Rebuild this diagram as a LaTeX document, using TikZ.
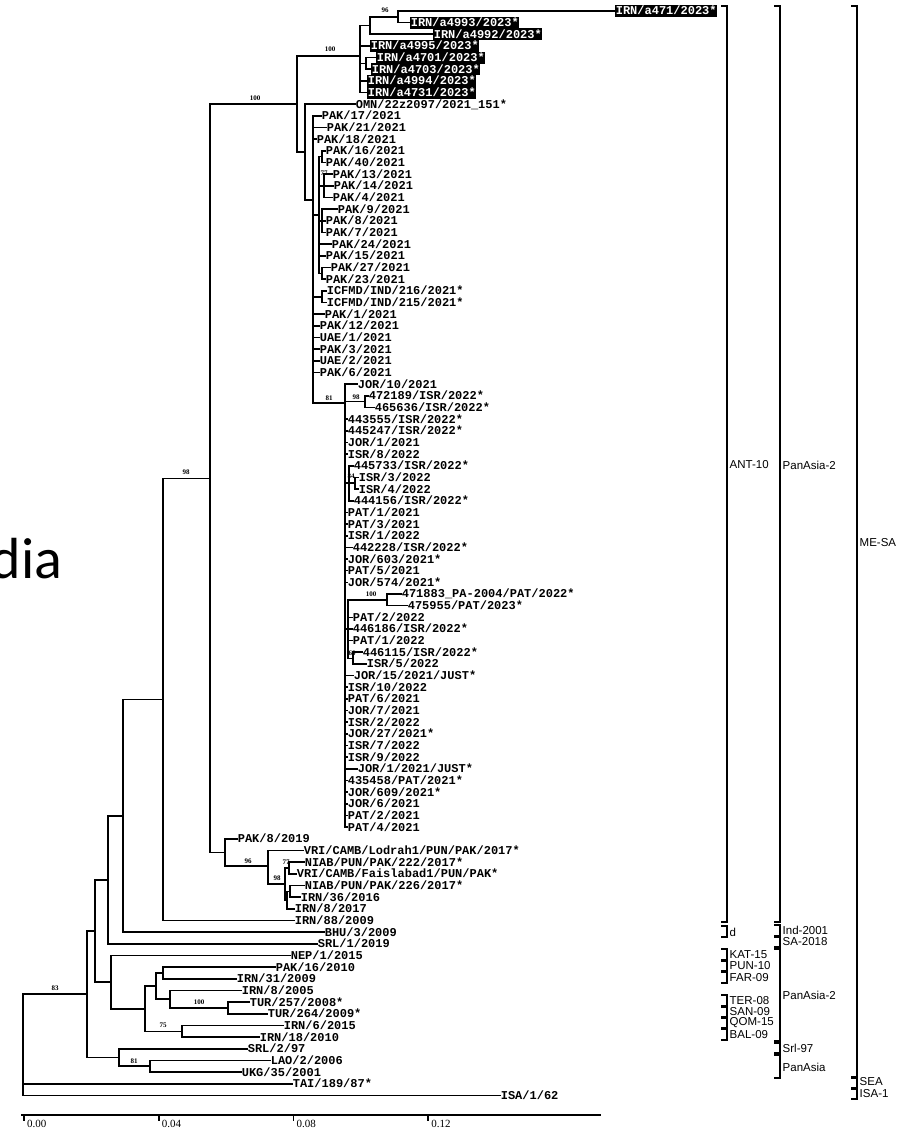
\documentclass[tikz,border=0pt]{standalone}
\usepackage{fontspec}
\setmainfont{Liberation Serif}
\newfontfamily\labfont{Liberation Mono}
\newfontfamily\grpfont{Liberation Sans}
\newfontfamily\calfont{Carlito}
\tikzset{
 br/.style={line width=1.6pt, line cap=rect},
 leaf/.style={anchor=west, inner xsep=0.6pt, inner ysep=2pt, text height=8pt, text depth=0pt, font=\labfont\bfseries\fontsize{12}{12}\selectfont},
 hlleaf/.style={leaf, fill=black, text=white},
 bsf/.style={font=\fontsize{7}{7}\selectfont\bfseries, inner sep=0},
 grp/.style={anchor=west, inner sep=0, font=\grpfont\fontsize{11.5}{11.5}\selectfont},
 brk/.style={line width=1.6pt},
 axl/.style={anchor=west, inner sep=0, font=\fontsize{11}{11}\selectfont}
}
\newcommand\tclade[6]{\coordinate (#1) at (#3,#6); \draw[br] (#3,#4) -- (#3,#5); \draw[br] (#2,#6) -- (#1);}
\newcommand\tleaf[5]{\node[leaf] (#1) at (#4,#3) {#5}; \draw[br] (#2,#3) -- (#1.west);}
\newcommand\thleaf[5]{\node[hlleaf] (#1) at (#4,#3) {#5}; \draw[br] (#2,#3) -- (#1.west);}
\newcommand\tboot[4]{\node[bsf] (#1) at (#2,#3) {#4};}
\newcommand\tgroup[6]{\draw[brk] ({#2-6},#3) -- (#2,#3) -- (#2,#4) -- ({#2-6},#4); \node[grp] (#1) at ({#2+2.5},#5) {#6};}
\begin{document}
\begin{tikzpicture}[x=1pt,y=-1pt]
\useasboundingbox (0,0) rectangle (904,1131);
\node[anchor=base west, inner sep=0, font=\calfont\fontsize{58}{60}\selectfont] (dia) at (-9.5,578) {dia};
% ---- backbone ----
\coordinate (root) at (23,994.2);
\draw[br] (23,994.2) -- (23,1095.4);
\tclade{n87}{23}{87}{930.9}{1057.5}{994.2}
\tclade{n95}{87}{95}{879.8}{982.1}{930.9}
\tclade{n108}{95}{108}{815.8}{943.8}{879.8}
\tclade{n123}{108}{123}{699.4}{932.1}{815.8}
\tclade{n163}{123}{163}{478.3}{920.5}{699.4}
\tclade{n210}{163}{210}{104}{852.5}{478.3}
\tclade{n111}{95}{111}{955.5}{1008.7}{982.1}
\tclade{n145}{111}{145}{986}{1031.3}{1008.7}
\tclade{n156}{145}{156}{972.9}{999.2}{986}
\tclade{n163b}{156}{163}{967.1}{978.8}{972.9}
\tclade{n170}{156}{170}{990.4}{1007.9}{999.2}
\tclade{n228}{170}{228}{1002.1}{1013.8}{1007.9}
\tclade{n182}{145}{182}{1025.4}{1037.1}{1031.3}
\tclade{n119}{87}{119}{1048.7}{1066.2}{1057.5}
\tclade{n150}{119}{150}{1060.4}{1072}{1066.2}
% ---- upper clades ----
\tclade{n297}{210}{297}{56}{152}{104}
\tclade{n360}{297}{360}{25.6}{92.6}{56}
\tclade{n370}{360}{370}{16.8}{34.3}{25.6}
\tclade{n398}{370}{398}{11}{22.7}{16.8}
\tclade{n366}{360}{366}{57.6}{69.3}{63.5}
\tclade{n305}{297}{305}{104.3}{200}{152}
\tclade{n313}{305}{313}{115.9}{403}{200}
\tclade{n319}{313}{319}{156.7}{273.4}{215}
\tclade{n322a}{319}{322}{150.9}{162.5}{156.7}
\tclade{n324}{319}{324}{174.2}{197.5}{185.9}
\tclade{n322b}{319}{322}{209.2}{232.5}{220.9}
\tclade{n322c}{319}{322}{267.5}{279.2}{273.4}
\tclade{n322d}{313}{322}{290.8}{302.5}{296.7}
\tclade{n345}{313}{345}{384.1}{827.2}{403}
\tclade{n365}{345}{365}{395.8}{407.4}{401.6}
\tclade{n349}{345}{349}{465.7}{500.7}{483.2}
\tclade{n355}{349}{355}{477.4}{489.1}{483.2}
\tclade{n348}{345}{348}{599.8}{658.3}{629}
\tclade{n387}{348}{387}{593.9}{605.6}{599.8}
\tclade{n353}{348}{353}{652.4}{664.1}{658.3}
\tclade{n225}{210}{225}{838.9}{866}{852.5}
\tclade{n268}{225}{268}{850.5}{884}{866}
\tclade{n285}{268}{285}{868}{900}{884}
\tclade{n289}{285}{289}{862.2}{873.8}{868}
\tclade{n287}{285}{287}{891.4}{908.8}{900}
\tclade{n290}{287}{290}{885.5}{897.2}{891.4}
% ---- leaves ----
\thleaf{L1}{398}{11}{615}{IRN/a471/2023*}
\thleaf{L2}{398}{22.7}{410}{IRN/a4993/2023*}
\thleaf{L3}{370}{34.3}{433}{IRN/a4992/2023*}
\thleaf{L4}{360}{46}{370}{IRN/a4995/2023*}
\thleaf{L5}{366}{57.6}{376}{IRN/a4701/2023*}
\thleaf{L6}{366}{69.3}{371}{IRN/a4703/2023*}
\thleaf{L7}{360}{81}{367}{IRN/a4994/2023*}
\thleaf{L8}{360}{92.6}{367}{IRN/a4731/2023*}
\tleaf{L9}{305}{104.3}{355}{OMN/22z2097/2021\_151*}
\tleaf{L10}{313}{115.9}{321}{PAK/17/2021}
\tleaf{L11}{313}{127.6}{326}{PAK/21/2021}
\tleaf{L12}{313}{139.2}{316}{PAK/18/2021}
\tleaf{L13}{322}{150.9}{325}{PAK/16/2021}
\tleaf{L14}{322}{162.5}{325}{PAK/40/2021}
\tleaf{L15}{324}{174.2}{332}{PAK/13/2021}
\tleaf{L16}{324}{185.9}{333}{PAK/14/2021}
\tleaf{L17}{324}{197.5}{332}{PAK/4/2021}
\tleaf{L18}{322}{209.2}{337}{PAK/9/2021}
\tleaf{L19}{322}{220.9}{325}{PAK/8/2021}
\tleaf{L20}{322}{232.5}{325}{PAK/7/2021}
\tleaf{L21}{319}{244.2}{331}{PAK/24/2021}
\tleaf{L22}{319}{255.8}{325}{PAK/15/2021}
\tleaf{L23}{322}{267.5}{330}{PAK/27/2021}
\tleaf{L24}{322}{279.2}{325}{PAK/23/2021}
\tleaf{L25}{322}{290.8}{326}{ICFMD/IND/216/2021*}
\tleaf{L26}{322}{302.5}{326}{ICFMD/IND/215/2021*}
\tleaf{L27}{313}{314.1}{324}{PAK/1/2021}
\tleaf{L28}{313}{325.8}{319}{PAK/12/2021}
\tleaf{L29}{313}{337.5}{319}{UAE/1/2021}
\tleaf{L30}{313}{349.1}{319}{PAK/3/2021}
\tleaf{L31}{313}{360.8}{319}{UAE/2/2021}
\tleaf{L32}{313}{372.4}{319}{PAK/6/2021}
\tleaf{L33}{345}{384.1}{357}{JOR/10/2021}
\tleaf{L34}{365}{395.8}{368}{472189/ISR/2022*}
\tleaf{L35}{365}{407.4}{374}{465636/ISR/2022*}
\tleaf{L36}{345}{419.1}{347}{443555/ISR/2022*}
\tleaf{L37}{345}{430.7}{347}{445247/ISR/2022*}
\tleaf{L38}{345}{442.4}{347}{JOR/1/2021}
\tleaf{L39}{345}{454.1}{347}{ISR/8/2022}
\tleaf{L40}{349}{465.7}{353}{445733/ISR/2022*}
\tleaf{L41}{355}{477.4}{358}{ISR/3/2022}
\tleaf{L42}{355}{489.1}{358}{ISR/4/2022}
\tleaf{L43}{349}{500.7}{353}{444156/ISR/2022*}
\tleaf{L44}{345}{512.4}{347}{PAT/1/2021}
\tleaf{L45}{345}{524.0}{347}{PAT/3/2021}
\tleaf{L46}{345}{535.7}{347}{ISR/1/2022}
\tleaf{L47}{345}{547.3}{352}{442228/ISR/2022*}
\tleaf{L48}{345}{559.0}{347}{JOR/603/2021*}
\tleaf{L49}{345}{570.6}{347}{PAT/5/2021}
\tleaf{L50}{345}{582.3}{347}{JOR/574/2021*}
\tleaf{L51}{387}{593.9}{401}{471883\_PA-2004/PAT/2022*}
\tleaf{L52}{387}{605.6}{407}{475955/PAT/2023*}
\tleaf{L53}{348}{617.3}{352}{PAT/2/2022}
\tleaf{L54}{348}{628.9}{352}{446186/ISR/2022*}
\tleaf{L55}{348}{640.6}{352}{PAT/1/2022}
\tleaf{L56}{353}{652.2}{362}{446115/ISR/2022*}
\tleaf{L57}{353}{663.9}{366}{ISR/5/2022}
\tleaf{L58}{345}{675.6}{353}{JOR/15/2021/JUST*}
\tleaf{L59}{345}{687.2}{347}{ISR/10/2022}
\tleaf{L60}{345}{698.9}{347}{PAT/6/2021}
\tleaf{L61}{345}{710.5}{347}{JOR/7/2021}
\tleaf{L62}{345}{722.2}{347}{ISR/2/2022}
\tleaf{L63}{345}{733.8}{347}{JOR/27/2021*}
\tleaf{L64}{345}{745.5}{347}{ISR/7/2022}
\tleaf{L65}{345}{757.2}{347}{ISR/9/2022}
\tleaf{L66}{345}{768.8}{357}{JOR/1/2021/JUST*}
\tleaf{L67}{345}{780.5}{347}{435458/PAT/2021*}
\tleaf{L68}{345}{792.1}{347}{JOR/609/2021*}
\tleaf{L69}{345}{803.8}{347}{JOR/6/2021}
\tleaf{L70}{345}{815.4}{347}{PAT/2/2021}
\tleaf{L71}{345}{827.1}{347}{PAT/4/2021}
\tleaf{L72}{225}{838.9}{237}{PAK/8/2019}
\tleaf{L73}{268}{850.5}{303}{VRI/CAMB/Lodrah1/PUN/PAK/2017*}
\tleaf{L74}{289}{862.2}{304}{NIAB/PUN/PAK/222/2017*}
\tleaf{L75}{289}{873.8}{296}{VRI/CAMB/Faislabad1/PUN/PAK*}
\tleaf{L76}{290}{885.5}{304}{NIAB/PUN/PAK/226/2017*}
\tleaf{L77}{290}{897.2}{300}{IRN/36/2016}
\tleaf{L78}{287}{908.8}{294}{IRN/8/2017}
\tleaf{L79}{163}{920.5}{294}{IRN/88/2009}
\tleaf{L80}{123}{932.1}{324}{BHU/3/2009}
\tleaf{L81}{108}{943.8}{317}{SRL/1/2019}
\tleaf{L82}{111}{955.5}{290}{NEP/1/2015}
\tleaf{L83}{163}{967.1}{275}{PAK/16/2010}
\tleaf{L84}{163}{978.8}{236}{IRN/31/2009}
\tleaf{L85}{170}{990.4}{241}{IRN/8/2005}
\tleaf{L86}{228}{1002.1}{249}{TUR/257/2008*}
\tleaf{L87}{228}{1013.8}{267}{TUR/264/2009*}
\tleaf{L88}{182}{1025.4}{283}{IRN/6/2015}
\tleaf{L89}{182}{1037.1}{259}{IRN/18/2010}
\tleaf{L90}{119}{1048.7}{247}{SRL/2/97}
\tleaf{L91}{150}{1060.4}{270}{LAO/2/2006}
\tleaf{L92}{150}{1072.0}{241}{UKG/35/2001}
\tleaf{L93}{23}{1083.7}{292}{TAI/189/87*}
\tleaf{L94}{23}{1095.4}{500}{ISA/1/62}
% ---- bootstrap values ----
\tboot{b1}{385}{10}{96}
\tboot{b2}{330}{49}{100}
\tboot{b3}{255}{98}{100}
\tboot{b4}{186}{472}{98}
\tboot{b5}{329}{398}{81}
\tboot{b6}{356}{397}{98}
\tboot{b7}{351}{476}{84}
\tboot{b8}{371}{594}{100}
\tboot{b9}{352}{653}{60}
\tboot{b10}{248}{861}{96}
\tboot{b11}{286}{862}{77}
\tboot{b12}{277}{878}{98}
\tboot{b13}{324}{173}{77}
\tboot{b14}{55}{988}{83}
\tboot{b15}{199}{1002}{100}
\tboot{b16}{163}{1025}{75}
\tboot{b17}{134}{1061}{81}
% ---- groups ----
\tgroup{gANT}{727}{6}{922}{465}{ANT-10}
\tgroup{gd}{727}{926}{937}{932}{d}
\tgroup{gKAT}{727}{949}{960}{954.5}{KAT-15}
\tgroup{gPUN}{727}{961}{971}{966}{PUN-10}
\tgroup{gFAR}{727}{972}{983}{977.5}{FAR-09}
\tgroup{gTER}{727}{995}{1006}{1000.5}{TER-08}
\tgroup{gSAN}{727}{1007}{1017}{1012}{SAN-09}
\tgroup{gQOM}{727}{1018}{1028}{1023}{QOM-15}
\tgroup{gBAL}{727}{1029}{1040}{1034.5}{BAL-09}
\tgroup{gPA2}{780}{6}{922}{465}{PanAsia-2}
\tgroup{gInd}{780}{925}{936}{930.5}{Ind-2001}
\tgroup{gSA}{780}{937}{947}{942}{SA-2018}
\tgroup{gPA2b}{780}{949}{1041}{995}{PanAsia-2}
\tgroup{gSrl}{780}{1043}{1053}{1048}{Srl-97}
\tgroup{gPA}{780}{1055}{1078}{1067}{PanAsia}
\tgroup{gME}{857}{6}{1077}{543}{ME-SA}
\tgroup{gSEA}{857}{1078}{1088}{1082}{SEA}
\tgroup{gISA}{857}{1089}{1099}{1094}{ISA-1}
% ---- scale axis ----
\coordinate (ax0) at (22,1115);
\coordinate (ax1) at (600,1115);
\draw[br] (ax0) -- (ax1);
\foreach \xx/\lab [count=\i] in {24/0.00,158.7/0.04,293.4/0.08,428.1/0.12}{
  \draw[br] (\xx,1115) -- (\xx,1120);
  \node[axl] (tick\i) at (\xx+3,1124) {\lab};
}
\end{tikzpicture}
\end{document}
